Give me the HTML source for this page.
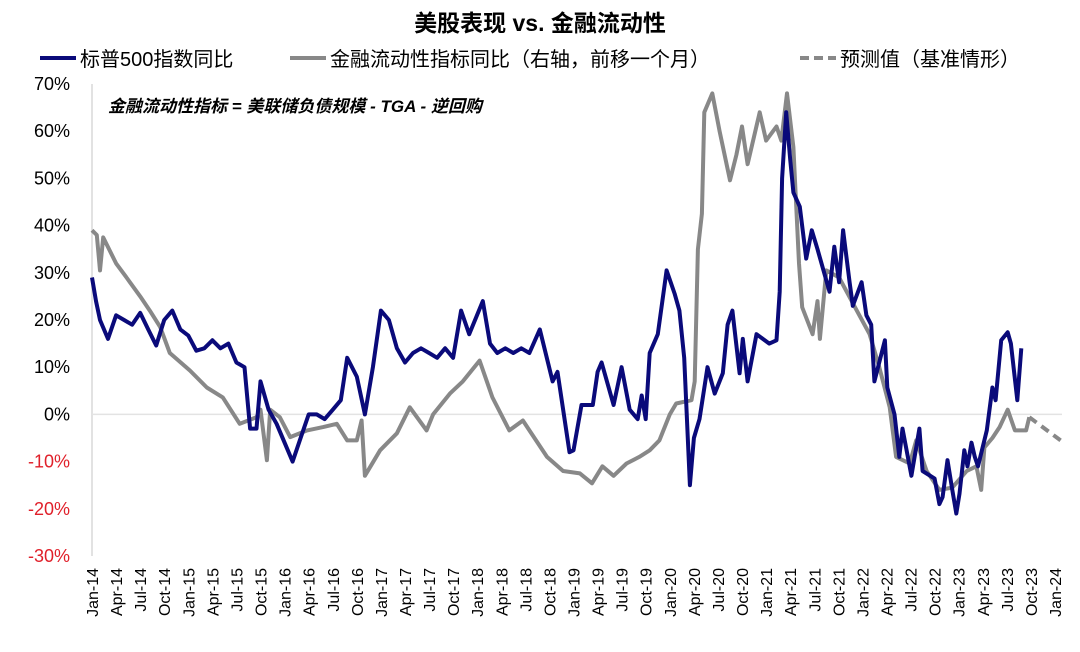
<!DOCTYPE html>
<html><head><meta charset="utf-8">
<style>
html,body{margin:0;padding:0;background:#fff;}
svg{display:block;font-family:"Liberation Sans","Noto Sans CJK SC",sans-serif;}
</style></head>
<body>
<svg id="chart" width="1080" height="652" viewBox="0 0 1080 652">
<text x="540" y="31" text-anchor="middle" font-size="23" font-weight="bold" fill="#000">美股表现 vs. 金融流动性</text>
<g>
<line x1="40" y1="58" x2="76" y2="58" stroke="#0a0a7a" stroke-width="4"/>
<text x="80" y="66" font-size="20">标普500指数同比</text>
<line x1="290" y1="58" x2="326" y2="58" stroke="#888" stroke-width="4"/>
<text x="330" y="66" font-size="20">金融流动性指标同比（右轴，前移一个月）</text>
<line x1="800" y1="58" x2="836" y2="58" stroke="#888" stroke-width="4" stroke-dasharray="9,5"/>
<text x="840" y="66" font-size="20">预测值（基准情形）</text>
</g>
<text x="108" y="112" font-size="17" font-weight="bold" font-style="italic">金融流动性指标  = 美联储负债规模 - TGA - 逆回购</text>
<g id="axes"></g>
<g id="marks"></g>
</svg>
<script>
const yTicks=[70,60,50,40,30,20,10,0,-10,-20,-30];
const xLabels=["Jan-14","Apr-14","Jul-14","Oct-14","Jan-15","Apr-15","Jul-15","Oct-15","Jan-16","Apr-16","Jul-16","Oct-16","Jan-17","Apr-17","Jul-17","Oct-17","Jan-18","Apr-18","Jul-18","Oct-18","Jan-19","Apr-19","Jul-19","Oct-19","Jan-20","Apr-20","Jul-20","Oct-20","Jan-21","Apr-21","Jul-21","Oct-21","Jan-22","Apr-22","Jul-22","Oct-22","Jan-23","Apr-23","Jul-23","Oct-23","Jan-24"];
const spMonths=[0,0.5,1,2,3,4,5,6,7,8,9,10,11,12,13,14,15,16,17,18,19,19.7,20.5,21,22,23,24,25,26,27,28,29,30,31,31.8,33,34,35,36,37,38,39,40,41,42,43,44,45,46,47,48.7,49.6,50.5,51.5,52.5,53.5,54.5,55.8,57.4,58,59.5,60,61,62.4,63,63.5,65,66,67,68,68.5,69,69.5,70.5,71.6,72.6,73.2,73.8,74.5,75,75.7,76.7,77.6,78.6,79.2,79.8,80.7,81.1,81.7,82.8,84.4,85.3,85.7,86,86.5,87,87.4,88.2,89,89.7,90.4,91.9,92.5,93.1,93.6,94.4,94.8,95.9,96.5,97.1,97.5,98.8,99.1,100,100.6,101,102.1,103.1,103.5,105,105.6,106,106.6,107.2,107.7,108.1,108.7,109.1,109.6,110,110.4,111.5,112.2,112.6,113.3,114.1,114.5,115.3,115.8];
const spValues=[29,24,20,16,21,20,19,21.5,18,14.6,20,22,18,16.7,13.5,14,15.7,14,15,11,10,-3,-3,7,1,-2,-6,-10,-5,0,0,-1,1,3,12,8,0,10,22,20,14,11,13,14,13,12,14,12,22,17,24,15,13,14,13,14,13,18,7,9,-8,-7.6,2,2,9,11,2,10,1,-1,4,-1,13,17,30.5,25.6,22,12,-15,-5,-1,10,4.4,8.7,19,22,8.7,16,7,17,15,15.7,26,50,64,54,47,44,33,39,35,26,35.5,28,39,28,23,28,21,19,7,15.7,5.7,0,-9,-3,-13,-3,-12,-13.6,-19,-17.5,-9.7,-16,-21,-16.8,-7.6,-11,-6,-9,-11,-3.4,5.7,3,15.7,17.4,15,3,14];
const liqMonths=[0,0.6,1,1.4,3,4.3,6,7.2,8.5,9.7,12.2,14.3,16.3,18.4,20.5,21,21.8,22.2,23.4,24.7,26.8,28.8,30.5,31.8,33,33.6,34,35.9,38,39.6,41.7,42.5,44.6,46.2,48.3,49.9,52,53.7,54.5,56.7,58.7,60.8,62.3,63.6,65,66.6,68.2,69.5,70.7,72,72.8,74.7,75.1,75.5,76,76.3,77.3,78.2,79.5,80.3,81,81.7,83.2,84,85.3,85.9,86.6,87.4,87.8,88.1,88.5,89.8,90.4,90.7,91.5,93.1,95.3,96.9,98.1,99.4,100.2,101.9,102.7,104,105.6,107.2,109,110.2,110.8,111.2,112.2,113.1,114.1,115,116.4,116.8];
const liqValues=[39,38,30.5,37.5,32,29,25,22,18.5,13,9.3,5.7,3.6,-2,-0.6,1,-9.7,1,-0.6,-4.8,-3.4,-2.7,-2,-5.5,-5.5,-1.3,-13,-7.6,-4,1.5,-3.4,0,4.4,7,11.4,3.6,-3.4,-1.3,-3.4,-9,-12,-12.5,-14.6,-11,-13,-10.4,-9,-7.6,-5.5,0,2.3,3,7,35,42.5,64,68,60,49.6,55,61,53,64,58,61,58,68,56.6,42.5,32,22.7,17,24,16,30.5,29,22,17,10,1.5,-9,-10.4,-5.5,-12,-16,-15.5,-12,-11,-16,-7,-5,-2.7,1,-3.4,-3.4,-0.6];
const fcMonths=[116.8,120.7];
const fcValues=[-0.6,-5.5];

const X0=92,X1=1055,Y70=84,Ym30=556;
function xs(m){return X0+(X1-X0)*m/120;}
function ys(v){return Y70+(70-v)*(Ym30-Y70)/100;}
const NS="http://www.w3.org/2000/svg";
const axes=document.getElementById('axes'),marks=document.getElementById('marks');
function mk(tag,attrs,parent){const e=document.createElementNS(NS,tag);for(const k in attrs)e.setAttribute(k,attrs[k]);parent.appendChild(e);return e;}

const yAxis=mk('line',{x1:X0,y1:Y70,x2:X0,y2:Ym30,stroke:'#d9d9d9','stroke-width':1.5},axes);


const zero=mk('line',{x1:X0,y1:ys(0),x2:1062,y2:ys(0),stroke:'#e3e3e3','stroke-width':1.5},axes);


yTicks.forEach(v=>{
  const t=mk('text',{x:70,y:ys(v)+6,'text-anchor':'end','font-size':18,fill:v<0?'#e0202a':'#000'},axes);
  t.textContent=v+'%';
  
  
});
xLabels.forEach((l,i)=>{
  const x=xs(i*3);
  const t=mk('text',{x:0,y:0,'text-anchor':'end','font-size':16,transform:`translate(${x+6},568) rotate(-90)`},axes);
  t.textContent=l;
  
  
});
function pathD(ms,vs){return ms.map((m,i)=>(i?'L':'M')+xs(m).toFixed(1)+','+ys(vs[i]).toFixed(1)).join('');}
const liq=mk('path',{d:pathD(liqMonths,liqValues),fill:'none',stroke:'#888','stroke-width':4,'stroke-linejoin':'round'},marks);


const fc=mk('path',{d:pathD(fcMonths,fcValues),fill:'none',stroke:'#888','stroke-width':4,'stroke-dasharray':'9,6'},marks);


const sp=mk('path',{d:pathD(spMonths,spValues),fill:'none',stroke:'#0a0a7a','stroke-width':4,'stroke-linejoin':'round'},marks);


</script>
</body></html>
